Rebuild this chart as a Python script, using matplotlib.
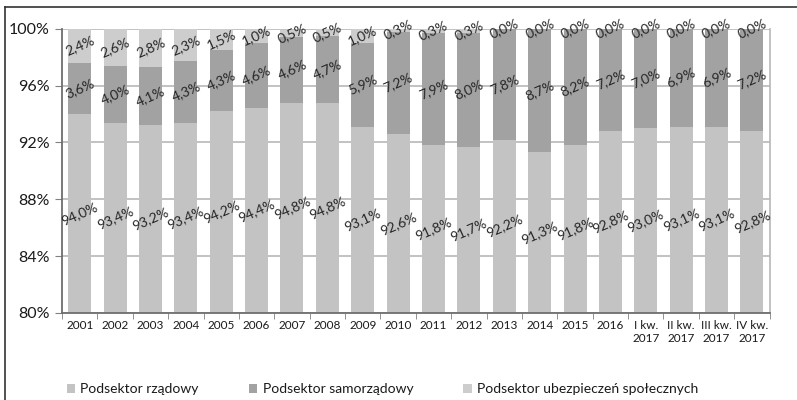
import matplotlib
matplotlib.use("Agg")
import matplotlib.pyplot as plt
import numpy as np
from matplotlib.lines import Line2D
from matplotlib.patches import Patch

categories = ["2001", "2002", "2003", "2004", "2005", "2006", "2007", "2008", "2009", "2010",
              "2011", "2012", "2013", "2014", "2015", "2016",
              "I kw.\n2017", "II kw.\n2017", "III kw.\n2017", "IV kw.\n2017"]
rzadowy = [94.0, 93.4, 93.2, 93.4, 94.2, 94.4, 94.8, 94.8, 93.1, 92.6,
           91.8, 91.7, 92.2, 91.3, 91.8, 92.8, 93.0, 93.1, 93.1, 92.8]
samorzadowy = [3.6, 4.0, 4.1, 4.3, 4.3, 4.6, 4.6, 4.7, 5.9, 7.2,
               7.9, 8.0, 7.8, 8.7, 8.2, 7.2, 7.0, 6.9, 6.9, 7.2]
ubezpieczen = [2.4, 2.6, 2.8, 2.3, 1.5, 1.0, 0.5, 0.5, 1.0, 0.3,
               0.3, 0.3, 0.0, 0.0, 0.0, 0.0, 0.0, 0.0, 0.0, 0.0]
series_names = ["Podsektor rządowy", "Podsektor samorządowy", "Podsektor ubezpieczeń społecznych"]
y_ticks = [80, 84, 88, 92, 96, 100]

plt.rcParams['font.family'] = ['Lato', 'DejaVu Sans']

c_rz = "#c3c3c3"
c_sam = "#a2a2a2"
c_ub = "#cdcdcd"

fig = plt.figure(figsize=(7.97, 4.0), dpi=100)
ax = fig.add_axes([62/797, 1-313/400, (769.6-62)/797, (313-28.7)/400])

x = np.arange(len(categories))
rz = np.array(rzadowy)
sam = np.array(samorzadowy)
ub = np.array(ubezpieczen)
w = 0.65
ax.bar(x, rz, width=w, color=c_rz, zorder=2)
ax.bar(x, sam, bottom=rz, width=w, color=c_sam, zorder=2)
ax.bar(x, ub, bottom=rz+sam, width=w, color=c_ub, zorder=2)

def fmt(v):
    return f"{v:.1f}%".replace(".", ",")

rot = 24
for i in range(len(x)):
    ax.text(x[i], (80+rz[i])/2, fmt(rz[i]), ha='center', va='center', rotation=rot,
            fontsize=10, color='#262626', zorder=4, clip_on=False, rotation_mode='anchor')
    ax.text(x[i], rz[i]+sam[i]/2, fmt(sam[i]), ha='center', va='center', rotation=rot,
            fontsize=10, color='#262626', zorder=4, clip_on=False, rotation_mode='anchor')
    ax.text(x[i], min(rz[i]+sam[i]+ub[i]/2, 100), fmt(ub[i]), ha='center', va='center', rotation=rot,
            fontsize=10, color='#262626', zorder=4, clip_on=False, rotation_mode='anchor')

ax.set_ylim(80, 100)
ax.set_xlim(-0.5, len(categories)-0.5)
ax.set_yticks(y_ticks)
ax.set_yticklabels([f"{t}%" for t in y_ticks], fontsize=11.5, color='#1a1a1a')
ax.yaxis.grid(True, color='#b8b8b8', linewidth=1.2, zorder=0)
ax.set_axisbelow(True)

ax.set_xticks(x)
ax.set_xticklabels(categories, fontsize=8.5, color='#1a1a1a')
ax.tick_params(axis='x', which='major', length=0, pad=5)
ax.set_xticks(np.arange(-0.5, len(categories)), minor=True)
ax.tick_params(axis='x', which='minor', length=4, color='#808080', direction='out')
ax.tick_params(axis='y', length=5, color='#808080', direction='out', pad=4)

for s in ['left', 'bottom']:
    ax.spines[s].set_color('#6e6e6e')
    ax.spines[s].set_linewidth(1.3)
ax.spines['top'].set_visible(False)
ax.spines['right'].set_color('#b8b8b8')
ax.spines['right'].set_linewidth(1.2)

handles = [Patch(facecolor=c_rz, edgecolor='none'),
           Patch(facecolor=c_sam, edgecolor='none'),
           Patch(facecolor=c_ub, edgecolor='none')]
leg = fig.legend(handles, series_names, loc='center left', bbox_to_anchor=(54/797, 1-389/400),
                 ncol=3, frameon=False, fontsize=10, handlelength=0.6, handleheight=0.6,
                 handletextpad=0.4, columnspacing=3.6, labelcolor='#1a1a1a')

fig.add_artist(Line2D([5/797, 5/797], [0, 1-7/400], color='#333333', linewidth=1.2, transform=fig.transFigure))
fig.add_artist(Line2D([5/797, 1], [1-7/400, 1-7/400], color='#333333', linewidth=1.2, transform=fig.transFigure))

fig.savefig("out.png", dpi=100)
